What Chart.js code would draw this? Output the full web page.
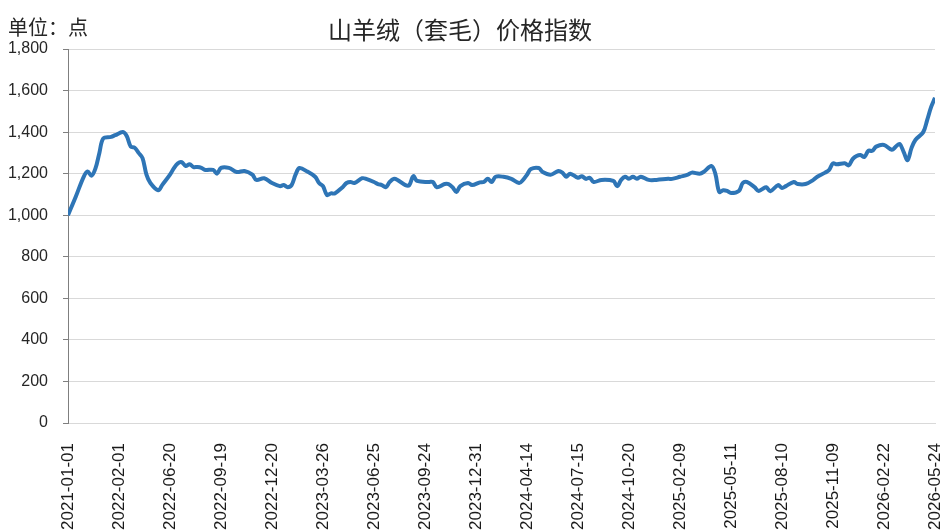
<!DOCTYPE html>
<html>
<head>
<meta charset="utf-8">
<script src="https://cdn.jsdelivr.net/npm/chart.js@4.4.1/dist/chart.umd.min.js"></script>
<style>
  html, body { margin: 0; padding: 0; background: #fff; }
</style>
</head>
<body>
<canvas id="priceChart" width="947" height="532"></canvas>
<script>
// tick labels on the x axis, one every 13 points
const tickLabels = ['2021-01-01', '2022-02-01', '2022-06-20', '2022-09-19', '2022-12-20', '2023-03-26',
  '2023-06-25', '2023-09-24', '2023-12-31', '2024-04-14', '2024-07-15', '2024-10-20',
  '2025-02-09', '2025-05-11', '2025-08-10', '2025-11-09', '2026-02-22', '2026-05-24']
const tickStep = 13

// point position (index along the axis) and index value
const pointIdx = [0, 2, 4, 5, 6, 7, 8, 9, 11, 12, 14, 15, 16, 17, 18, 19, 20, 21, 23, 24,
  26, 27, 28, 29, 30, 31, 32, 33, 34, 35, 37, 38, 39, 41, 43, 45, 47, 48, 50, 52,
  54, 55, 56, 57, 58, 59, 61, 63, 64, 65, 66, 67, 68, 70, 71, 72, 73, 75, 76, 78,
  79, 80, 81, 82, 83, 84, 86, 87, 88, 89, 92, 93, 94, 96, 97, 98, 99, 100, 102, 103,
  105, 106, 107, 108, 109, 111, 113, 115, 116, 117, 118, 120, 121, 123, 125, 126, 127, 128, 130, 131,
  132, 133, 134, 136, 139, 140, 141, 142, 143, 144, 145, 146, 148, 150, 153, 154, 156, 158, 159, 161,
  162, 164, 165, 166, 167, 168, 169, 171, 172, 173, 175, 176, 177, 178, 179, 181, 182, 183, 185, 186,
  188, 190, 191, 193, 194, 195, 196, 198, 199, 200, 201, 202, 203, 204, 205, 206, 208, 210, 211, 212,
  213, 214, 215, 216, 218, 219, 220, 221]
const pointVal = [1000, 1090, 1185, 1210, 1190, 1225, 1300, 1370, 1377, 1385, 1400, 1380, 1330, 1325, 1300, 1275, 1195, 1155, 1120, 1145,
  1195, 1227, 1250, 1255, 1237, 1245, 1232, 1232, 1228, 1218, 1218, 1200, 1228, 1228, 1208, 1213, 1195, 1170, 1178, 1155,
  1140, 1145, 1135, 1145, 1195, 1227, 1210, 1185, 1155, 1140, 1097, 1105, 1105, 1135, 1155, 1160, 1155, 1178, 1175, 1160,
  1150, 1145, 1135, 1160, 1175, 1170, 1145, 1145, 1188, 1165, 1160, 1160, 1135, 1150, 1150, 1135, 1112, 1140, 1155, 1145,
  1158, 1160, 1175, 1160, 1185, 1185, 1175, 1155, 1170, 1195, 1222, 1227, 1208, 1195, 1213, 1205, 1185, 1200, 1180, 1188,
  1175, 1180, 1160, 1170, 1165, 1140, 1170, 1185, 1175, 1185, 1175, 1185, 1170, 1170, 1175, 1175, 1185, 1195, 1205, 1200,
  1208, 1237, 1200, 1112, 1120, 1117, 1107, 1117, 1155, 1160, 1135, 1117, 1126, 1135, 1115, 1145, 1131, 1140, 1160, 1150,
  1150, 1170, 1185, 1205, 1218, 1250, 1245, 1250, 1240, 1270, 1285, 1290, 1280, 1310, 1310, 1330, 1338, 1315, 1330, 1343,
  1305, 1265, 1323, 1362, 1400, 1458, 1520, 1565]

const chartTitle = '山羊绒（套毛）价格指数'
const unitText = '单位：点'

const points = pointIdx.map((x, i) => ({ x: x, y: pointVal[i] }))

// title and unit text are drawn straight on the canvas
const headerText = {
  id: 'headerText',
  afterDraw(chart) {
    const c = chart.ctx
    c.save()
    c.fillStyle = '#262626'
    c.textBaseline = 'middle'
    c.font = '24px "Noto Sans CJK SC"'
    c.textAlign = 'center'
    c.fillText(chartTitle, 460, 30)
    c.font = '20px "Noto Sans CJK SC"'
    c.textAlign = 'left'
    c.fillText(unitText, 8, 27)
    c.restore()
  }
}

const ctx = document.getElementById('priceChart').getContext('2d')
const myChart = new Chart(ctx, {
  type: 'line',
  data: {
    datasets: [{
      label: chartTitle,
      data: points,
      borderColor: '#2E75B6',
      borderWidth: 4,
      pointRadius: 0,
      tension: 0.35,
      fill: false
    }]
  },
  options: {
    responsive: false,
    animation: false,
    layout: { padding: { left: 0, right: 12, top: 49, bottom: 0 } },
    plugins: {
      legend: { display: false },
      tooltip: { enabled: false }
    },
    scales: {
      x: {
        type: 'linear',
        min: 0,
        max: (tickLabels.length - 1) * tickStep,
        grid: { display: false },
        border: { display: true, color: '#d9d9d9' },
        ticks: {
          stepSize: tickStep,
          autoSkip: false,
          maxRotation: 90,
          minRotation: 90,
          padding: 12,
          color: '#1a1a1a',
          font: { family: 'Liberation Sans', size: 17 },
          callback: (v) => tickLabels[Math.round(v / tickStep)] || ''
        },
        afterFit: (s) => { s.height = 109; s.paddingLeft = 0; s.paddingRight = 0 }
      },
      y: {
        min: 0,
        max: 1800,
        grid: { color: '#d9d9d9', tickColor: '#7f7f7f', tickLength: 5 },
        border: { display: true, color: '#7f7f7f' },
        ticks: {
          stepSize: 200,
          padding: 15,
          color: '#262626',
          font: { family: 'Liberation Sans', size: 16 },
          callback: (v) => v.toLocaleString('en-US')
        },
        afterFit: (s) => { s.width = 68 }
      }
    }
  },
  plugins: [headerText]
})
</script>
</body>
</html>
